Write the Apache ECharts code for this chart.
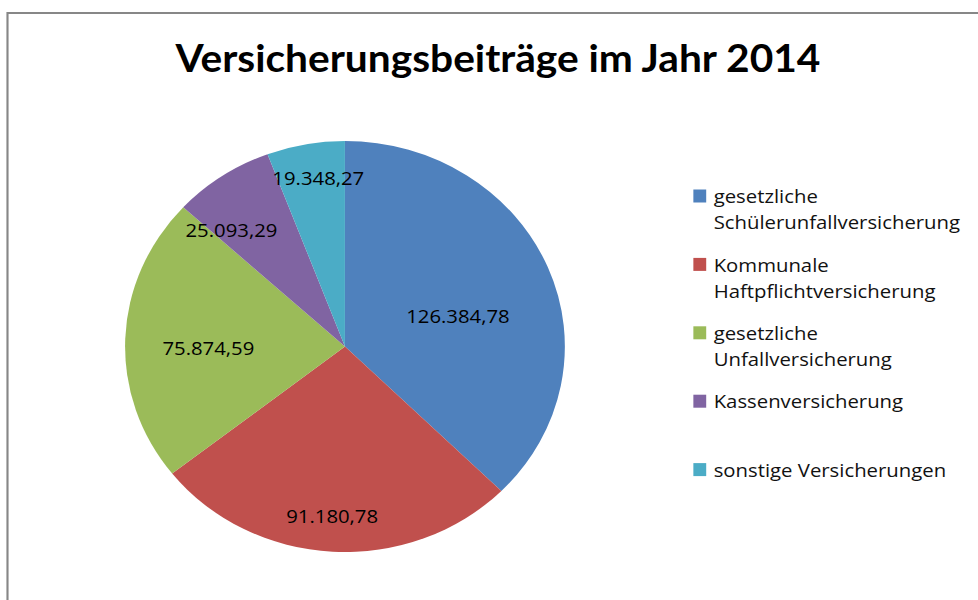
<!DOCTYPE html>
<html>
<head>
<meta charset="utf-8">
<script src="https://cdn.jsdelivr.net/npm/echarts@6/dist/echarts.min.js"></script>
<style>
  html, body { margin: 0; padding: 0; background: #fff; }
  #wrap { width: 978px; height: 600px; overflow: hidden; position: relative; background: #fff; }
  #chart { width: 914px; height: 600px; transform: scaleX(1.07); transform-origin: 0 0; }
</style>
</head>
<body>
<div id="wrap"><div id="chart"></div></div>
<script>
const titleText = 'Versicherungsbeiträge im Jahr 2014';
const categories = [
  'gesetzliche\nSchülerunfallversicherung',
  'Kommunale\nHaftpflichtversicherung',
  'gesetzliche\nUnfallversicherung',
  'Kassenversicherung',
  'sonstige Versicherungen'
];
const values = [126384.78, 91180.78, 75874.59, 25093.29, 19348.27];
const colors = ['#4F81BD', '#C0504D', '#9BBB59', '#8064A2', '#4BACC6'];
// label nudges from the default inside position (layout, not data)
const labelNudge = [[8, 10], [-6, 64], [-22, 5], [-47, -29], [-6, -65]];

function deNumber(v) {
  const parts = v.toFixed(2).split('.');
  const intPart = parts[0].replace(/\B(?=(\d{3})+(?!\d))/g, '.');
  return intPart + ',' + parts[1];
}

const chart = echarts.init(document.getElementById('chart'), null, { renderer: 'svg' });
chart.setOption({
  animation: false,
  color: colors,
  title: {
    text: titleText,
    left: 164,
    top: 38,
    padding: 0,
    textStyle: { fontFamily: 'Lato', fontWeight: 'bold', fontSize: 38, color: '#000' }
  },
  graphic: [{
    type: 'rect',
    shape: { x: 7, y: 13, width: 1200, height: 800 },
    style: { fill: 'none', stroke: '#878787', lineWidth: 2 },
    silent: true
  }],
  legend: {
    orient: 'vertical',
    left: 648,
    top: 157,
    padding: 0,
    itemWidth: 12,
    itemHeight: 13,
    itemGap: -9.6,
    icon: 'rect',
    selectedMode: false,
    data: categories,
    formatter: function (name) {
      return '\n' + name + (name.indexOf('\n') >= 0 ? '' : '\n');
    },
    textStyle: { fontFamily: 'Open Sans', fontSize: 19, lineHeight: 26, color: '#111', padding: [0, 0, 0, 2] }
  },
  series: [{
    type: 'pie',
    center: [322.4, 346.5],
    radius: [0, 205.5],
    startAngle: 90,
    clockwise: true,
    avoidLabelOverlap: false,
    itemStyle: { borderWidth: 0 },
    label: {
      show: true,
      position: 'inside',
      fontFamily: 'Open Sans',
      fontSize: 19,
      color: '#000',
      formatter: function (p) { return deNumber(p.value); }
    },
    labelLine: { show: false },
    labelLayout: function (params) {
      const r = params.labelRect;
      const off = labelNudge[params.dataIndex];
      return {
        x: r.x + r.width / 2 + off[0],
        y: r.y + r.height / 2 + off[1],
        align: 'center',
        verticalAlign: 'middle'
      };
    },
    emphasis: { disabled: true },
    data: categories.map(function (c, i) { return { name: c, value: values[i] }; })
  }]
});
</script>
</body>
</html>
